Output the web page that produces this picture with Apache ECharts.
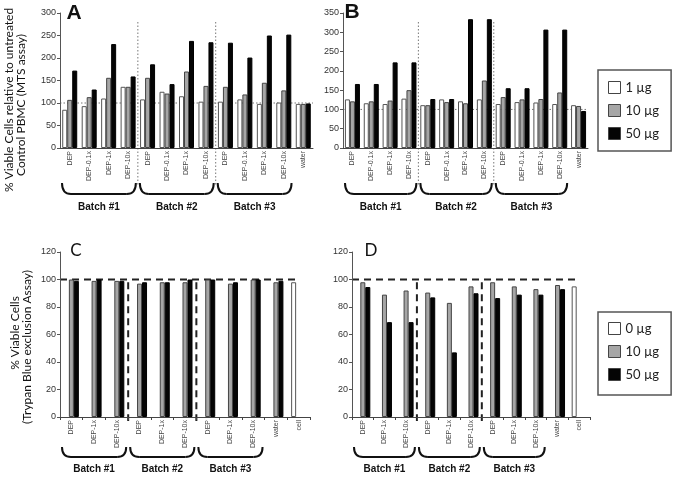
<!DOCTYPE html>
<html><head><meta charset="utf-8">
<script src="https://cdn.jsdelivr.net/npm/echarts@6/dist/echarts.min.js"></script>
<style>html,body{margin:0;padding:0;background:#fff}#c{width:674px;height:479px}</style>
</head><body><div id="c"></div>
<script>
// ---- data ----
const catsTop = ['DEP','DEP-0.1x','DEP-1x','DEP-10x','DEP','DEP-0.1x','DEP-1x','DEP-10x','DEP','DEP-0.1x','DEP-1x','DEP-10x','water'];
const catsBottom = ['DEP','DEP-1x','DEP-10x','DEP','DEP-1x','DEP-10x','DEP','DEP-1x','DEP-10x','water','cell'];
const batchLabels = ['Batch #1','Batch #2','Batch #3'];
const seriesTop = ['1 µg','10 µg','50 µg'];
const seriesBottom = ['0 µg','10 µg','50 µg'];
const ticksA = [0,300,50];
const ticksB = [0,350,50];
const ticksCD = [0,120,20];

const A_1  = [85,93,110,136, 108,125,115,103, 103,108,98,101, 98];
const A_10 = [107,113,156,136, 156,121,170,138, 136,119,145,128, 98];
const A_50 = [172,130,231,159, 186,142,238,235, 234,201,250,252, 99];

const B_1  = [126,116,114,128, 111,126,121,126, 114,119,118,114, 111];
const B_10 = [121,121,123,150, 111,119,116,175, 132,126,127,144, 109];
const B_50 = [166,166,222,222, 127,127,334,334, 155,155,307,307, 96];

const C_0  = [null,null,null, null,null,null, null,null,null, null, 98];
const C_10 = [100,99,99, 97,98,98, 100,97,100, 98, null];
const C_50 = [99,100,99, 98,98,100, 100,98,100, 99, null];

const D_0  = [null,null,null, null,null,null, null,null,null, null, 95];
const D_10 = [98,89,92, 90.5,83,95, 98,95,93, 96, null];
const D_50 = [94.5,69,69, 87,47,90, 86.5,89,89, 93, null];

// ---- styles ----
const FONT = '"Liberation Sans", Arial, sans-serif';
const FONT2 = 'Lato, "Open Sans", sans-serif';
const barStyles = [
  {color:'#ffffff', borderColor:'#555', borderWidth:1},
  {color:'#a6a6a6', borderColor:'#444', borderWidth:1},
  {color:'#050505', borderColor:'#000', borderWidth:1}
];
const grids = [
  {left:60, top:13, width:253, height:135},
  {left:343, top:13, width:245, height:135},
  {left:60, top:252, width:250, height:165},
  {left:352, top:252, width:238, height:165}
];
function xAx(i, cats, ticks){
  return {type:'category', gridIndex:i, data:cats,
    axisLine:{show:true, lineStyle:{color:'#444', width:1}},
    axisTick:{show:ticks, length:3, lineStyle:{color:'#444'}},
    axisLabel:{interval:0, rotate:90, fontSize:7, fontFamily:FONT, color:'#444', margin:3},
    splitLine:{show:false}};
}
function yAx(i, t){
  return {type:'value', gridIndex:i, min:t[0], max:t[1], interval:t[2],
    axisLine:{show:true, lineStyle:{color:'#555', width:1}},
    axisTick:{show:true, length:3, lineStyle:{color:'#555'}},
    axisLabel:{fontSize:9, fontFamily:FONT, color:'#333', margin:4},
    splitLine:{show:false}};
}
function ser(name, data, i, s){
  return {type:'bar', name:name, data:data, xAxisIndex:i, yAxisIndex:i,
    barWidth:5, barGap:'0%', itemStyle:barStyles[s], silent:true, animation:false};
}
function legendItems(names){
  return names.map((n,k)=>({name:n, itemStyle:{color:barStyles[k].color, borderColor:'#444', borderWidth:1}}));
}
const option = {
  backgroundColor:'#fff',
  animation:false,
  grid:grids,
  xAxis:[xAx(0,catsTop,false), xAx(1,catsTop,false), xAx(2,catsBottom,true), xAx(3,catsBottom,true)],
  yAxis:[yAx(0,ticksA), yAx(1,ticksB), yAx(2,ticksCD), yAx(3,ticksCD)],
  legend:[
    {orient:'vertical', left:598, top:70, data:legendItems(seriesTop), icon:'rect', itemWidth:12, itemHeight:12, itemGap:10,
     padding:[11,12,11,10], borderColor:'#555', borderWidth:1.5, backgroundColor:'#fff',
     textStyle:{fontSize:13, fontFamily:FONT2, color:'#222'}, selectedMode:false},
    {orient:'vertical', left:598, top:312, data:legendItems(seriesBottom), icon:'rect', itemWidth:12, itemHeight:12, itemGap:10,
     padding:[10,12,14,10], borderColor:'#555', borderWidth:1.5, backgroundColor:'#fff',
     textStyle:{fontSize:13, fontFamily:FONT2, color:'#222'}, selectedMode:false}
  ],
  series:[
    ser(seriesTop[0],A_1,0,0), ser(seriesTop[1],A_10,0,1), ser(seriesTop[2],A_50,0,2),
    ser(seriesTop[0],B_1,1,0), ser(seriesTop[1],B_10,1,1), ser(seriesTop[2],B_50,1,2),
    ser(seriesBottom[0],C_0,2,0), ser(seriesBottom[1],C_10,2,1), ser(seriesBottom[2],C_50,2,2),
    ser(seriesBottom[0],D_0,3,0), ser(seriesBottom[1],D_10,3,1), ser(seriesBottom[2],D_50,3,2)
  ]
};
const chart = echarts.init(document.getElementById('c'), null, {renderer:'canvas', width:674, height:479});
chart.setOption(option);

// ---- annotations derived from the axes ----
const g = [];
function cx(ax, idx){ return chart.convertToPixel({xAxisIndex:ax}, idx); }
function cy(ax, v){ return chart.convertToPixel({yAxisIndex:ax}, v); }
function half(ax){ return (cx(ax,1)-cx(ax,0))/2; }
function line(x1,y1,x2,y2,style){ g.push({type:'line', shape:{x1,y1,x2,y2}, style:style, silent:true}); }
function text(x,y,t,font,opts){ g.push(Object.assign({type:'text', x:x, y:y, silent:true,
  style:{text:t, font:font, fill:'#111', align:'center', verticalAlign:'middle'}}, opts||{})); }
const braceStyle = {stroke:'#111', lineWidth:2, fill:null};
function brace(x1,x2,y0,y1){
  g.push({type:'bezierCurve', silent:true, shape:{x1:x1, y1:y0, x2:x1+9, y2:y1, cpx1:x1, cpy1:y1}, style:braceStyle});
  g.push({type:'line', silent:true, shape:{x1:x1+9, y1:y1, x2:x2-9, y2:y1}, style:braceStyle});
  g.push({type:'bezierCurve', silent:true, shape:{x1:x2-9, y1:y1, x2:x2, y2:y0, cpx1:x2, cpy1:y1}, style:braceStyle});
}
const dotted = {stroke:'#777', lineWidth:1, lineDash:[1.5,2]};
const dashed = {stroke:'#222', lineWidth:2, lineDash:[7,5]};
// top panels
[0,1].forEach(ax=>{
  const gr = grids[ax], h = half(ax);
  const y100 = cy(ax,100);
  line(gr.left, y100, gr.left+gr.width, y100, dotted);
  [4,8].forEach(k=>{ const x = cx(ax,k)-h; line(x, gr.top+9, x, 186, dotted); });
  for(let b=0;b<3;b++){
    const x1 = cx(ax,4*b)-h+2, x2 = cx(ax,4*b+3)+h-2;
    brace(x1, x2, 183, 194);
    text((x1+x2)/2, 207, batchLabels[b], 'bold 10px '+FONT);
  }
});
// bottom panels
[2,3].forEach(ax=>{
  const gr = grids[ax], h = half(ax);
  const y100 = cy(ax,100);
  line(gr.left, y100, cx(ax,10)-3, y100, dashed);
  [3,6].forEach(k=>{ const x = cx(ax,k)-h; line(x, cy(ax,98), x, gr.top+gr.height+4, dashed); });
  for(let b=0;b<3;b++){
    const x1 = cx(ax,3*b)-h+2, x2 = cx(ax,3*b+2)+h-2;
    brace(x1, x2, 447, 457);
    text((x1+x2)/2, 469, batchLabels[b], 'bold 10px '+FONT);
  }
});
// panel letters
text(74, 13, 'A', 'bold 21px '+FONT);
text(352, 12, 'B', 'bold 21px '+FONT);
text(76, 251, 'C', '17px '+FONT2);
text(371, 251, 'D', '17px '+FONT2);
// axis titles
text(9, 100, '% Viable Cells relative to untreated', '12px '+FONT2, {rotation:Math.PI/2});
text(21, 105, 'Control PBMC (MTS assay)', '12px '+FONT2, {rotation:Math.PI/2});
text(15, 333, '% Viable Cells', '12px '+FONT2, {rotation:Math.PI/2});
text(27, 347, '(Trypan Blue exclusion Assay)', '12px '+FONT2, {rotation:Math.PI/2});
chart.setOption({graphic:{elements:g}});
</script></body></html>
